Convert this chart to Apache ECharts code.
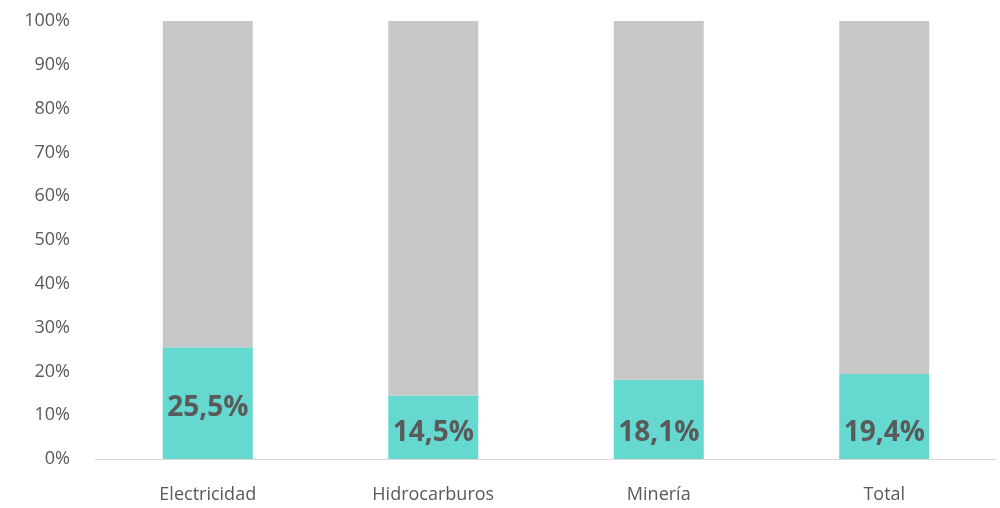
<!DOCTYPE html>
<html>
<head>
<meta charset="utf-8">
<script src="https://cdn.jsdelivr.net/npm/echarts@6/dist/echarts.min.js"></script>
<style>
  html, body { margin: 0; padding: 0; background: #fff; }
  #myChart { width: 1000px; height: 508px; }
</style>
</head>
<body>
<div id="myChart"></div>
<script>
// datos
var categories = ['Electricidad', 'Hidrocarburos', 'Minería', 'Total'];
var shareValues = [25.5, 14.5, 18.1, 19.4];
var restValues = [74.5, 85.5, 81.9, 80.6];
var yTicks = [0, 10, 20, 30, 40, 50, 60, 70, 80, 90, 100];

var font = "'Open Sans', 'Noto Sans', sans-serif";

// la primera etiqueta queda centrada, las demás cerca de la base
var shareData = shareValues.map(function (v, i) {
    var lbl = i === 0
        ? { position: 'inside', offset: [0, 5] }
        : { position: 'insideBottom', distance: 12 };
    return { value: v, label: lbl };
});

var myChart = echarts.init(document.getElementById('myChart'));
myChart.setOption({
    animation: false,
    grid: { left: 95, right: 3, top: 21, bottom: 49, containLabel: false },
    xAxis: {
        type: 'category',
        data: categories,
        axisLine: { lineStyle: { color: '#d9d9d9', width: 1 } },
        axisTick: { show: false },
        axisLabel: { color: '#595959', fontSize: 18, fontFamily: font, margin: 27 }
    },
    yAxis: {
        type: 'value',
        min: yTicks[0],
        max: yTicks[yTicks.length - 1],
        interval: 10,
        splitLine: { show: false },
        axisLine: { show: false },
        axisTick: { show: false },
        axisLabel: {
            color: '#595959', fontSize: 18, fontFamily: font, margin: 25,
            formatter: '{value}%'
        }
    },
    series: [
        {
            name: 'share',
            type: 'bar',
            stack: 'total',
            barWidth: 90,
            data: shareData,
            itemStyle: { color: '#65d8d0' },
            label: {
                show: true,
                color: '#5a5a5a',
                fontSize: 28,
                fontWeight: 'bold',
                fontFamily: font,
                formatter: function (p) {
                    return p.value.toFixed(1).replace('.', ',') + '%';
                }
            }
        },
        {
            name: 'resto',
            type: 'bar',
            stack: 'total',
            barWidth: 90,
            data: restValues,
            itemStyle: { color: '#c8c8c8' }
        }
    ]
});
</script>
</body>
</html>
